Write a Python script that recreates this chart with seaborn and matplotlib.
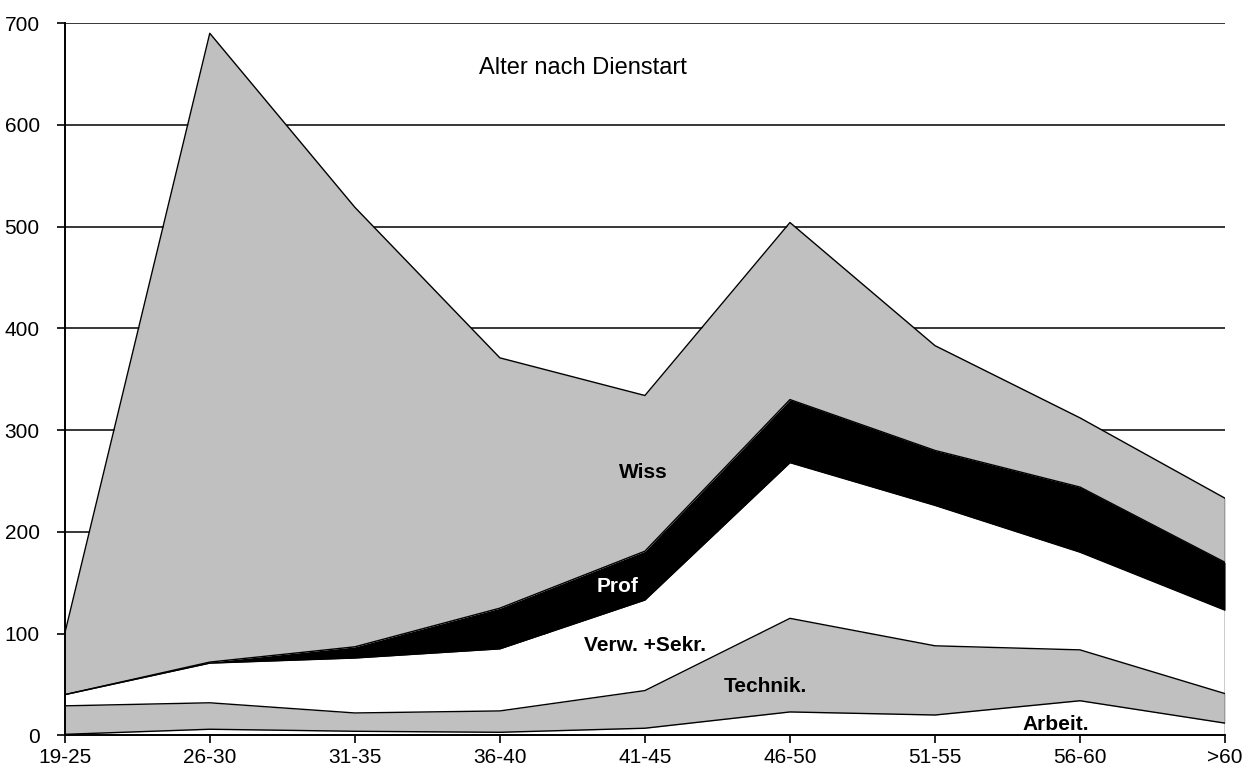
import numpy as np
import pandas as pd
import matplotlib
matplotlib.use("Agg")
import matplotlib.pyplot as plt
import seaborn as sns

# Altersgruppen und Personal je Dienstart
age_groups = ['19-25', '26-30', '31-35', '36-40', '41-45', '46-50', '51-55', '56-60', '>60']
arbeit = [1, 6, 4, 3, 7, 23, 20, 34, 12]
technik = [28, 26, 18, 21, 37, 92, 68, 50, 29]
verw = [11, 39, 54, 61, 89, 153, 138, 96, 82]
prof = [0, 1, 11, 40, 48, 62, 54, 64, 47]
wiss = [60, 618, 432, 246, 153, 174, 103, 68, 63]

series_names = ['Arbeit.', 'Technik.', 'Verw. +Sekr.', 'Prof', 'Wiss']
series_colors = ['white', '#c0c0c0', 'white', 'black', '#c0c0c0']

sns.set_style("white")
plt.rcParams['font.family'] = ['Liberation Sans', 'DejaVu Sans']
plt.rcParams['text.color'] = 'black'
plt.rcParams['xtick.color'] = 'black'
plt.rcParams['ytick.color'] = 'black'

df = pd.DataFrame({'Arbeit.': arbeit, 'Technik.': technik, 'Verw. +Sekr.': verw,
                   'Prof': prof, 'Wiss': wiss}, index=age_groups)
cum = df.cumsum(axis=1)
x = np.arange(len(age_groups))

fig, ax = plt.subplots(figsize=(12.45, 7.7), dpi=100)
fig.subplots_adjust(left=0.052, right=0.984, top=0.970, bottom=0.045)

# horizontal grid behind the areas
for yv in range(100, 701, 100):
    ax.axhline(yv, color='black', lw=1.1, zorder=0)

lower = np.zeros(len(x))
for name, col in zip(series_names, series_colors):
    upper = cum[name].values
    ax.fill_between(x, lower, upper, color=col, lw=0, zorder=1)
    lower = upper

# outlines of the layers
for name in series_names:
    sns.lineplot(x=x, y=cum[name].values, ax=ax, color='black', lw=1.0, zorder=2)
ax.plot([x[-1], x[-1]], [0, cum['Wiss'].values[-1]], color='black', lw=1.0, zorder=2)

ax.set_xlim(0, len(x) - 1)
ax.set_ylim(0, 700)
ax.set_xticks(x)
ax.set_xticklabels(age_groups, fontsize=15)
ax.set_yticks(range(0, 701, 100))
ax.tick_params(axis='y', labelsize=15, length=6, width=1.2, direction='out', left=True, pad=12)
ax.tick_params(axis='x', length=6, width=1.2, direction='out', bottom=True, pad=3)

for s in ['top', 'right']:
    ax.spines[s].set_visible(False)
for s in ['left', 'bottom']:
    ax.spines[s].set_color('black')
    ax.spines[s].set_linewidth(1.4)
    ax.spines[s].set_zorder(3)

# labels
ax.text(3.57, 656, 'Alter nach Dienstart', fontsize=17, ha='center', va='center')
ax.text(3.99, 258, 'Wiss', fontsize=15, fontweight='bold', ha='center', va='center')
ax.text(3.81, 146, 'Prof', fontsize=15, fontweight='bold', color='white', ha='center', va='center')
ax.text(4.0, 88, 'Verw. +Sekr.', fontsize=15, fontweight='bold', ha='center', va='center')
ax.text(4.83, 48, 'Technik.', fontsize=15, fontweight='bold', ha='center', va='center')
ax.text(6.83, 11, 'Arbeit.', fontsize=15, fontweight='bold', ha='center', va='center')

ax.set_xlabel('')
ax.set_ylabel('')
fig.savefig('out.png', dpi=100)
